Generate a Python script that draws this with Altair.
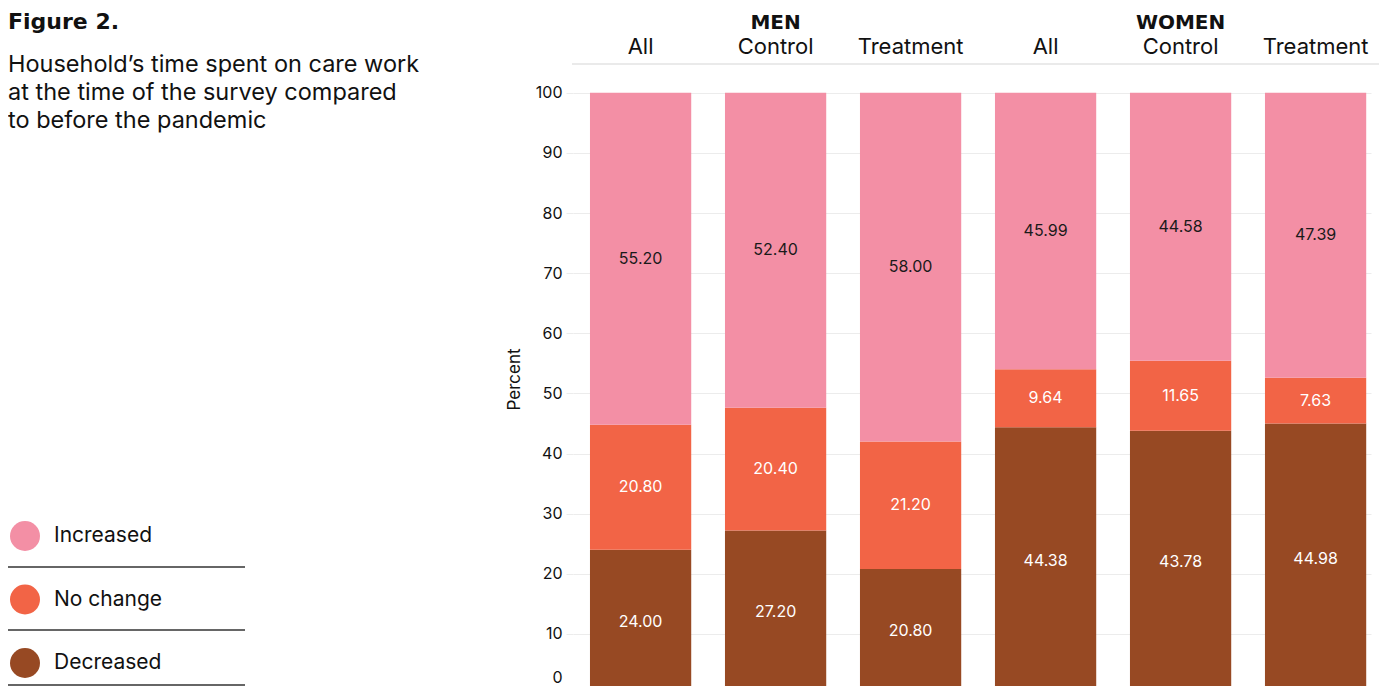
import altair as alt
import pandas as pd

groups = ["MEN", "WOMEN"]
subgroups = ["All", "Control", "Treatment"]
categories = ["Decreased", "No change", "Increased"]
colors = ["#974923", "#F26446", "#F38FA5"]

decreased = [24.00, 27.20, 20.80, 44.38, 43.78, 44.98]
no_change = [20.80, 20.40, 21.20, 9.64, 11.65, 7.63]
increased = [55.20, 52.40, 58.00, 45.99, 44.58, 47.39]

title_text = "Figure 2."
subtitle_lines = ["Household\u2019s time spent on care work",
                  "at the time of the survey compared",
                  "to before the pandemic"]
legend_labels = ["Increased", "No change", "Decreased"]
y_ticks = [0, 10, 20, 30, 40, 50, 60, 70, 80, 90, 100]

keys = [g + "|" + s for g in groups for s in subgroups]
rows = []
series = {"Decreased": decreased, "No change": no_change, "Increased": increased}
for ci, cat in enumerate(categories):
    for k, v in zip(keys, series[cat]):
        rows.append({"key": k, "cat": cat, "value": v, "ord": ci})
df = pd.DataFrame(rows)

FONT = "Inter"
W, H = 798, 630

xscale = alt.Scale(paddingInner=0.25, paddingOuter=0.0806, align=0.78)
color_scale = alt.Scale(domain=categories, range=colors)

x_enc = alt.X("key:N", sort=keys, scale=xscale,
              axis=alt.Axis(orient="top", title=None, labelAngle=0, ticks=False, tickSize=0,
                            labelExpr="split(datum.value, '|')[1]", labelFont=FONT,
                            labelFontSize=22, labelColor="#111", labelPadding=6,
                            domain=False, grid=False))

bars = alt.Chart(df).mark_bar().encode(
    x=x_enc,
    y=alt.Y("value:Q", stack="zero", scale=alt.Scale(domain=[0, 104.8], nice=False),
            axis=alt.Axis(values=y_ticks, title="Percent", domain=False, tickColor="#ececec",
                          tickSize=7, gridColor="#ececec", labelFont=FONT, labelFontSize=16,
                          labelColor="#111", labelPadding=4, labelFlush=True, labelFlushOffset=-9,
                          titleFont=FONT, titleFontSize=17,
                          titleFontWeight="normal", titleColor="#111", titlePadding=12)),
    color=alt.Color("cat:N", scale=color_scale, legend=None),
    order=alt.Order("ord:Q"),
)

header_line = alt.Chart(pd.DataFrame({"a": [0]})).mark_rule(color="#d6d6d6", strokeWidth=1.2).encode(
    x=alt.value(-1), x2=alt.value(806), y=alt.value(0))

labels = alt.Chart(df).transform_stack(
    stack="value", groupby=["key"], as_=["y0", "y1"], sort=[alt.SortField("ord")]
).transform_calculate(mid="(datum.y0 + datum.y1) / 2").mark_text(
    font=FONT, fontSize=16, baseline="middle"
).encode(
    x=alt.X("key:N", sort=keys),
    y=alt.Y("mid:Q"),
    text=alt.Text("value:Q", format=".2f"),
    color=alt.condition(alt.datum.cat == "Increased", alt.value("#1a1a1a"), alt.value("white")),
)

gdf = pd.DataFrame({"key": [g + "|Control" for g in groups], "g": groups})
group_labels = alt.Chart(gdf).mark_text(
    font="DejaVu Sans", fontWeight="bold", fontSize=20, baseline="alphabetic", color="#111"
).encode(x=alt.X("key:N", sort=keys), y=alt.value(-35), text="g:N")

one = pd.DataFrame({"a": [0]})
fig_title = alt.Chart(one).mark_text(
    text=title_text, font="DejaVu Sans", fontWeight="bold", fontSize=22, align="left",
    baseline="alphabetic", color="#111"
).encode(x=alt.value(-565), y=alt.value(-35.5))

subtitle = alt.Chart(one).mark_text(
    text=subtitle_lines, font=FONT, fontSize=23.5, align="left", baseline="alphabetic",
    lineHeight=28, color="#111"
).encode(x=alt.value(-565), y=alt.value(8))

legend_layers = []
line_ys = [503, 566, 621]
for i, lab in enumerate(legend_labels):
    ldf = pd.DataFrame({"cat": [lab]})
    yc = 472 + 63.5 * i
    legend_layers.append(alt.Chart(ldf).mark_circle(size=900, opacity=1).encode(
        x=alt.value(-548), y=alt.value(yc),
        color=alt.Color("cat:N", scale=color_scale, legend=None)))
    legend_layers.append(alt.Chart(ldf).mark_text(
        font=FONT, fontSize=21, align="left", baseline="middle", color="#111"
    ).encode(x=alt.value(-519), y=alt.value(yc), text="cat:N"))
    legend_layers.append(alt.Chart(ldf).mark_rule(color="#333", strokeWidth=1.5).encode(
        x=alt.value(-565), x2=alt.value(-328), y=alt.value(line_ys[i])))

chart = alt.layer(bars, header_line, labels, group_labels, fig_title, subtitle, *legend_layers).properties(
    width=W, height=H,
    autosize=alt.AutoSizeParams(type="none"),
    padding={"left": 565, "top": 56, "right": 8, "bottom": -8},
).configure_view(stroke=None)

chart.save("out.html", embed_options={"renderer": "svg", "actions": False})
